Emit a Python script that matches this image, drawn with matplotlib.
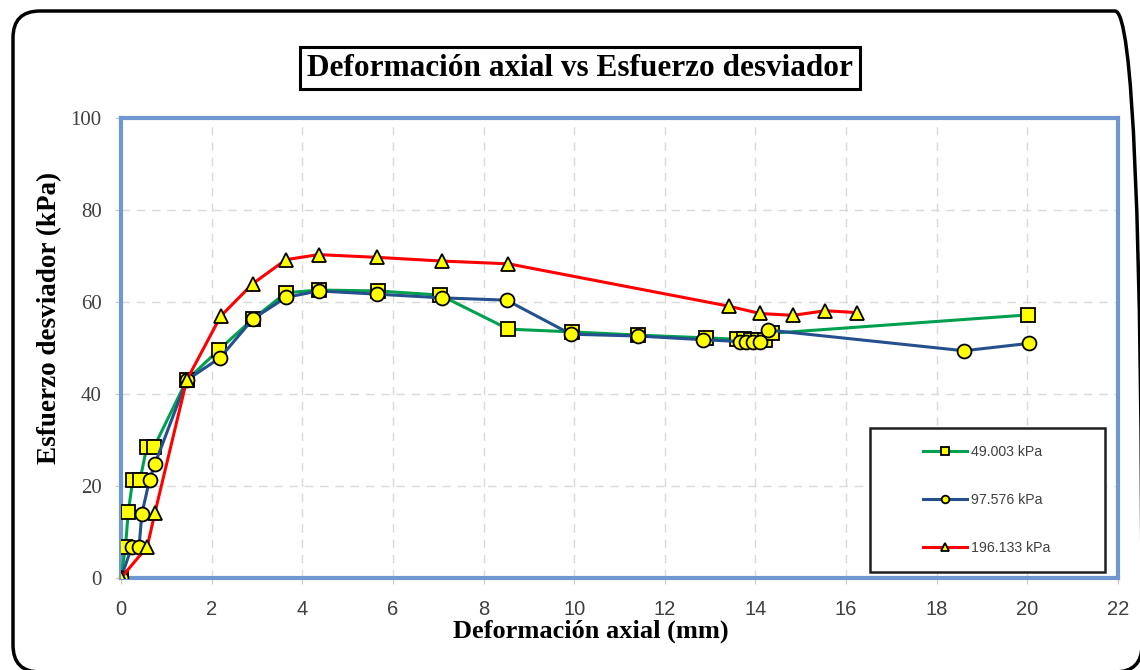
import matplotlib
matplotlib.use("Agg")
import matplotlib.pyplot as plt
from matplotlib.patches import FancyBboxPatch
from matplotlib.legend_handler import HandlerLine2D

# Data
x_49 = [0, 0.10, 0.16, 0.26, 0.42, 0.57, 0.73, 1.45, 2.16, 2.91, 3.64, 4.37, 5.67, 7.04, 8.55,
        9.96, 11.41, 12.91, 13.60, 13.75, 13.90, 14.05, 14.20, 14.36, 20.02]
y_49 = [0, 6.8, 14.3, 21.3, 21.3, 28.5, 28.5, 43.0, 49.6, 56.3, 62.0, 62.6, 62.4, 61.5, 54.1,
        53.5, 52.8, 52.2, 51.9, 51.9, 51.8, 51.8, 51.7, 53.2, 57.2]

x_97 = [0, 0.24, 0.40, 0.46, 0.63, 0.75, 1.45, 2.19, 2.91, 3.64, 4.36, 5.66, 7.08, 8.51,
        9.93, 11.41, 12.85, 13.65, 13.80, 13.95, 14.10, 14.28, 18.60, 20.03]
y_97 = [0, 6.8, 6.8, 13.9, 21.3, 24.8, 43.0, 47.9, 56.3, 61.0, 62.4, 61.7, 60.9, 60.4,
        53.0, 52.6, 51.8, 51.4, 51.4, 51.4, 51.4, 53.9, 49.4, 51.0]

x_196 = [0, 0.58, 0.75, 1.45, 2.20, 2.91, 3.64, 4.36, 5.66, 7.08, 8.55, 13.41, 14.10, 14.83,
         15.54, 16.24]
y_196 = [0, 6.8, 14.2, 43.0, 56.9, 64.0, 69.2, 70.3, 69.7, 68.9, 68.3, 59.1, 57.5, 57.1,
         58.1, 57.7]

labels = ["49.003 kPa", "97.576 kPa", "196.133 kPa"]
xticks = [0, 2, 4, 6, 8, 10, 12, 14, 16, 18, 20, 22]
yticks = [0, 20, 40, 60, 80, 100]


class OffsetLineHandler(HandlerLine2D):
    """Draws the legend line only in the right part of the handle box."""
    def __init__(self, offset_px, **kw):
        super().__init__(**kw)
        self.offset_px = offset_px

    def create_artists(self, legend, orig_handle, xdescent, ydescent, width, height,
                       fontsize, trans):
        off = self.offset_px * 72.0 / legend.figure.dpi
        return super().create_artists(legend, orig_handle, xdescent - off, ydescent,
                                      width - off, height, fontsize, trans)


fig = plt.figure(figsize=(11.4, 6.7), dpi=100)
ax = fig.add_axes([0.1061, 0.1373, 0.8746, 0.6866])

# outer rounded border (inch units)
border = FancyBboxPatch((0.13, -0.02), 11.29, 6.61, boxstyle="round,pad=0,rounding_size=0.27",
                        transform=fig.dpi_scale_trans, fill=False, edgecolor="black",
                        linewidth=2.5, clip_on=False)
fig.patches.append(border)

mk = dict(markerfacecolor="#FFFF00", markeredgecolor="black", markeredgewidth=1.3)
l1, = ax.plot(x_49, y_49, color="#00A04F", lw=2.2, marker="s", markersize=10, label=labels[0], **mk, zorder=3)
l2, = ax.plot(x_97, y_97, color="#25508E", lw=2.2, marker="o", markersize=10, label=labels[1], **mk, zorder=4)
l3, = ax.plot(x_196, y_196, color="#FF0000", lw=2.2, marker="^", markersize=10, label=labels[2], **mk, zorder=5)

ax.set_xlim(0, 22)
ax.set_ylim(0, 100)
ax.set_xticks(xticks)
ax.set_yticks(yticks)
ax.tick_params(length=4, color="#C8C8C8", labelcolor="#404040")
ax.tick_params(axis="x", pad=12, labelsize=14.5)
ax.tick_params(axis="y", pad=10, labelsize=15)
for t in ax.get_xticklabels():
    t.set_family("Liberation Sans")
for t in ax.get_yticklabels():
    t.set_family("Liberation Serif")
ax.grid(True, color="#D9D9D9", linestyle=(0, (6, 5)), linewidth=1.0)
ax.set_axisbelow(True)
for s in ax.spines.values():
    s.set_color("#7098D0")
    s.set_linewidth(3)

ax.set_xlabel("Deformación axial (mm)", family="Liberation Serif", fontweight="bold",
              fontsize=19, labelpad=0)
ax.xaxis.label.set_x(0.471)
ax.set_ylabel("Esfuerzo desviador (kPa)", family="Liberation Serif", fontweight="bold",
              fontsize=19.5, labelpad=6)
ax.yaxis.label.set_y(0.565)

fig.text(0.5088, 0.8985, "Deformación axial vs Esfuerzo desviador", family="Liberation Serif",
         fontweight="bold", fontsize=22.5, ha="center", va="center",
         bbox=dict(boxstyle="square,pad=0.22", facecolor="white", edgecolor="black", linewidth=2.2))

hmap = {h: OffsetLineHandler(36) for h in (l1, l2, l3)}
leg = ax.legend(loc="lower left", bbox_to_anchor=(0.751, 0.013, 0.236, 0.31), mode="expand",
                labelspacing=2.4, handlelength=5.7, handletextpad=0.25,
                borderpad=1.2, borderaxespad=0, markerscale=0.55, fancybox=False,
                frameon=True, edgecolor="#202020", handler_map=hmap,
                prop={"family": "Liberation Sans", "size": 10.2})
leg.get_frame().set_linewidth(1.8)
leg.get_frame().set_alpha(1)
for t in leg.get_texts():
    t.set_color("#404040")

fig.savefig("out.png", dpi=100)
